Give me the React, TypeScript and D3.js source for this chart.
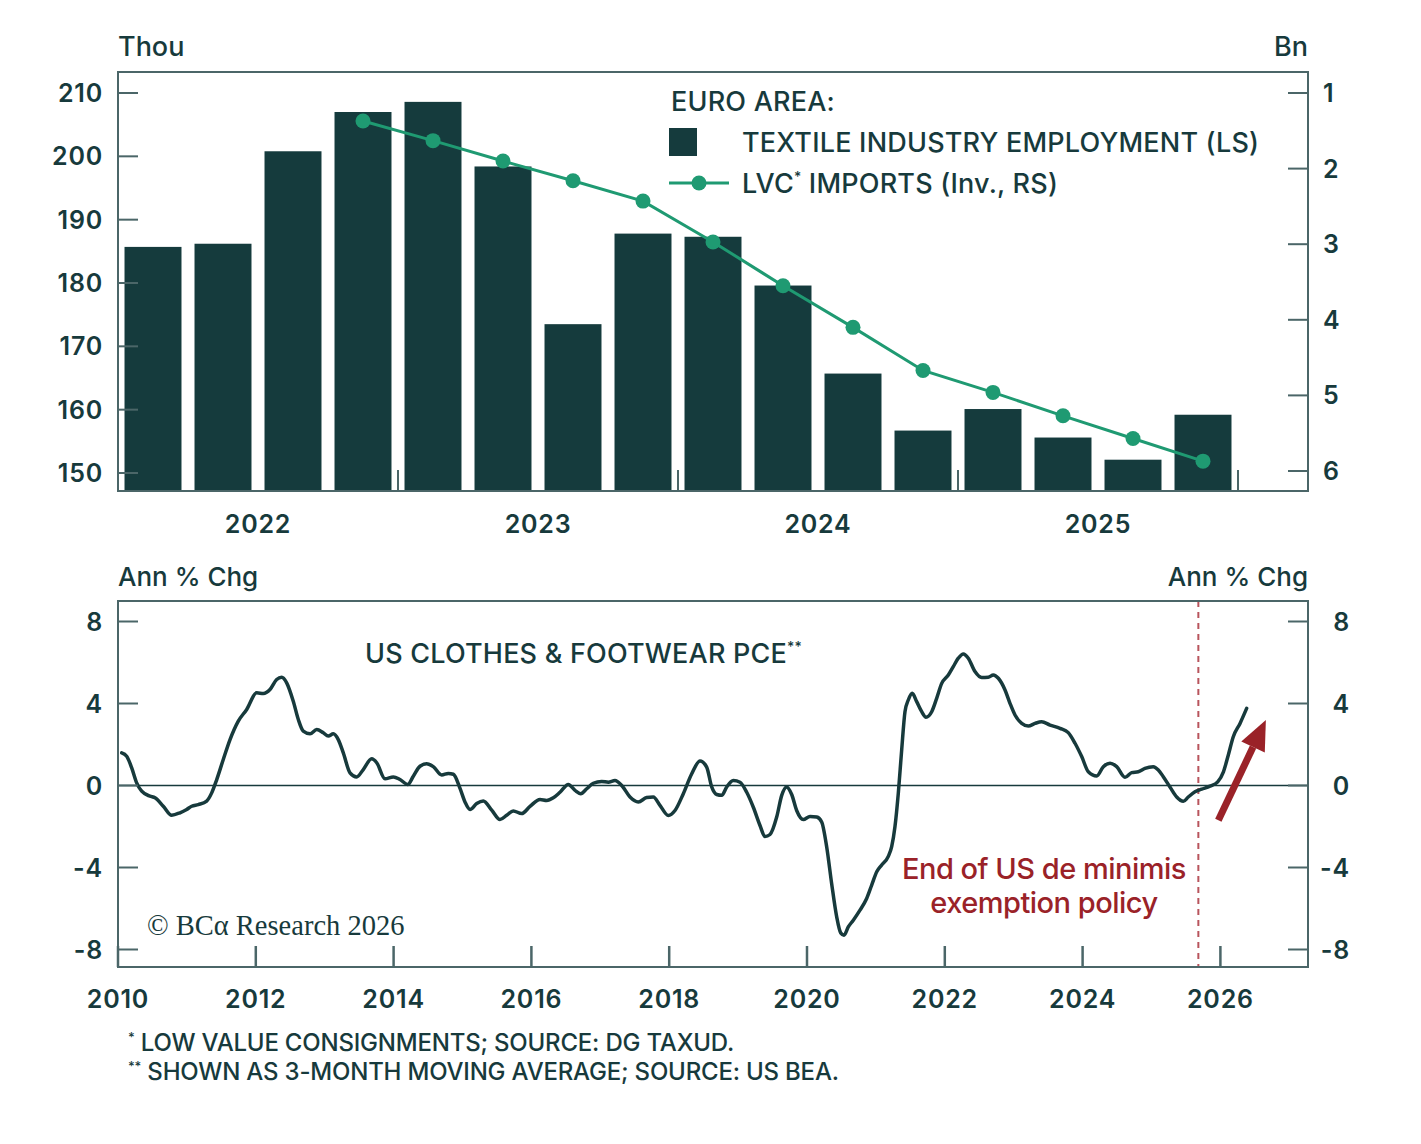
import React from 'react';
import * as d3 from 'd3';

// ---------- DATA ----------
const quarters = ['2022Q1','2022Q2','2022Q3','2022Q4','2023Q1','2023Q2','2023Q3','2023Q4','2024Q1','2024Q2','2024Q3','2024Q4','2025Q1','2025Q2','2025Q3','2025Q4'];
const textileEmployment = [185.7, 186.2, 200.8, 207.0, 208.6, 198.4, 173.5, 187.8, 187.3, 179.6, 165.7, 156.7, 160.1, 155.6, 152.1, 159.2];
const lvcImports: (number | null)[] = [null, null, null, 1.37, 1.63, 1.90, 2.16, 2.43, 2.97, 3.55, 4.10, 4.67, 4.96, 5.27, 5.57, 5.87];
const topYearLabels = ['2022', '2023', '2024', '2025'];
const leftTicksTop = [150, 160, 170, 180, 190, 200, 210];
const rightTicksTop = [1, 2, 3, 4, 5, 6];

const pceDates = [
  2010.054, 2010.126, 2010.199, 2010.271, 2010.344, 2010.464, 2010.537, 2010.657, 2010.779, 2010.900,
  2010.997, 2011.070, 2011.165, 2011.287, 2011.360, 2011.433, 2011.528, 2011.626, 2011.746, 2011.868,
  2012.013, 2012.109, 2012.206, 2012.303, 2012.376, 2012.448, 2012.544, 2012.617, 2012.689, 2012.787,
  2012.884, 2012.980, 2013.052, 2013.125, 2013.197, 2013.270, 2013.367, 2013.464, 2013.560, 2013.682,
  2013.755, 2013.875, 2013.996, 2014.093, 2014.205, 2014.286, 2014.383, 2014.480, 2014.576, 2014.698,
  2014.794, 2014.867, 2014.964, 2015.036, 2015.109, 2015.206, 2015.302, 2015.424, 2015.544, 2015.641,
  2015.737, 2015.859, 2015.980, 2016.125, 2016.222, 2016.318, 2016.415, 2016.536, 2016.633, 2016.716,
  2016.803, 2016.898, 2017.020, 2017.116, 2017.213, 2017.311, 2017.431, 2017.551, 2017.673, 2017.769,
  2017.866, 2017.987, 2018.084, 2018.205, 2018.327, 2018.447, 2018.544, 2018.617, 2018.690, 2018.762,
  2018.835, 2018.930, 2019.028, 2019.125, 2019.221, 2019.318, 2019.390, 2019.463, 2019.560, 2019.633,
  2019.705, 2019.778, 2019.850, 2019.946, 2020.044, 2020.141, 2020.213, 2020.286, 2020.358, 2020.431,
  2020.489, 2020.537, 2020.599, 2020.672, 2020.769, 2020.866, 2020.939, 2021.012, 2021.084, 2021.180,
  2021.229, 2021.277, 2021.325, 2021.374, 2021.422, 2021.470, 2021.528, 2021.592, 2021.665, 2021.727,
  2021.810, 2021.882, 2021.955, 2022.051, 2022.123, 2022.196, 2022.269, 2022.341, 2022.438, 2022.535,
  2022.631, 2022.704, 2022.777, 2022.874, 2022.946, 2023.019, 2023.116, 2023.212, 2023.309, 2023.406,
  2023.527, 2023.672, 2023.792, 2023.890, 2023.987, 2024.083, 2024.205, 2024.301, 2024.398, 2024.495,
  2024.615, 2024.712, 2024.808, 2024.905, 2025.026, 2025.099, 2025.171, 2025.268, 2025.366, 2025.462,
  2025.534, 2025.631, 2025.728, 2025.849, 2025.961, 2026.044, 2026.115, 2026.187, 2026.285, 2026.381,
];
const pceValues = [
  1.59, 1.43, 0.86, 0.13, -0.28, -0.52, -0.60, -1.01, -1.45, -1.33,
  -1.17, -1.01, -0.93, -0.76, -0.36, 0.29, 1.27, 2.24, 3.14, 3.71,
  4.52, 4.49, 4.68, 5.17, 5.28, 5.01, 4.11, 3.22, 2.65, 2.52,
  2.73, 2.57, 2.41, 2.52, 2.24, 1.59, 0.62, 0.42, 0.78, 1.30,
  1.11, 0.33, 0.42, 0.29, 0.05, 0.45, 0.94, 1.06, 0.92, 0.51,
  0.59, 0.55, -0.14, -0.80, -1.17, -0.88, -0.75, -1.20, -1.66, -1.45,
  -1.24, -1.37, -1.02, -0.68, -0.73, -0.60, -0.33, 0.05, -0.24, -0.40,
  -0.16, 0.11, 0.20, 0.16, 0.24, 0.00, -0.56, -0.80, -0.59, -0.56,
  -0.97, -1.46, -1.22, -0.40, 0.57, 1.20, 0.90, -0.07, -0.44, -0.48,
  -0.07, 0.24, 0.16, -0.33, -1.06, -1.95, -2.49, -2.39, -1.54, -0.48,
  -0.07, -0.44, -1.22, -1.66, -1.51, -1.54, -1.78, -3.00, -4.79, -6.41,
  -7.19, -7.30, -6.90, -6.57, -6.08, -5.51, -4.86, -4.21, -3.88, -3.46,
  -2.98, -2.00, -0.38, 1.73, 3.60, 4.17, 4.50, 4.09, 3.60, 3.33,
  3.60, 4.25, 4.98, 5.39, 5.80, 6.21, 6.42, 6.21, 5.56, 5.27,
  5.28, 5.39, 5.23, 4.66, 4.01, 3.44, 3.03, 2.90, 3.03, 3.11,
  2.95, 2.79, 2.58, 2.06, 1.41, 0.67, 0.46, 0.92, 1.09, 0.92,
  0.40, 0.63, 0.67, 0.84, 0.92, 0.76, 0.43, -0.07, -0.56, -0.77,
  -0.56, -0.31, -0.18, -0.03, 0.18, 0.67, 1.49, 2.38, 3.03, 3.76,
];
const bottomYearTicks = [2010, 2012, 2014, 2016, 2018, 2020, 2022, 2024, 2026];
const bottomValueTicks = [-8, -4, 0, 4, 8];
const deMinimisDate = 2025.68;
const arrowFrom: [number, number] = [2025.97, -1.7];
const arrowTo: [number, number] = [2026.66, 3.2];

// ---------- STYLE ----------
const INK = '#173a3c';
const BAR = '#153b3d';
const GREEN = '#1f9a72';
const FRAME = '#4b6668';
const RED = '#9a2228';
const FONT = "Inter, 'Open Sans', sans-serif";

export default function App() {
  const L = 118, R = 1308;

  // ---- top panel ----
  const tTop = 72, tBot = 491;
  const xBand = d3.scaleBand<string>().domain(quarters).range([L, 1238]).paddingInner(0.186).paddingOuter(0.093);
  const xYearTop = d3.scaleLinear().domain([2022, 2026]).range([L, 1238]);
  const yL = d3.scaleLinear().domain([150, 210]).range([473, 93]);
  const yR = d3.scaleLinear().domain([1, 6]).range([93, 471]);
  const lvcPts = quarters
    .map((q, i) => ({ q, v: lvcImports[i] }))
    .filter((d) => d.v !== null) as { q: string; v: number }[];
  const lvcLine = d3.line<{ q: string; v: number }>()
    .x((d) => (xBand(d.q) as number) + xBand.bandwidth() / 2)
    .y((d) => yR(d.v))(lvcPts) as string;

  // ---- bottom panel ----
  const bTop = 601, bBot = 967;
  const xB = d3.scaleLinear().domain([2010, 2010 + (R - L) / 68.9]).range([L, R]);
  const yB = d3.scaleLinear().domain([-8, 8]).range([949.5, 621.5]);
  const pcePts = pceDates.map((d, i) => [d, pceValues[i]] as [number, number]);
  const pceLine = d3.line<[number, number]>()
    .x((d) => xB(d[0]))
    .y((d) => yB(d[1]))
    .curve(d3.curveMonotoneX)(pcePts) as string;

  // arrow geometry
  const ax0 = xB(arrowFrom[0]), ay0 = yB(arrowFrom[1]);
  const ax1 = xB(arrowTo[0]), ay1 = yB(arrowTo[1]);
  const ang = Math.atan2(ay1 - ay0, ax1 - ax0);
  const headLen = 30, headHalf = 13;
  const bx = ax1 - headLen * Math.cos(ang), by = ay1 - headLen * Math.sin(ang);
  const px = -Math.sin(ang), py = Math.cos(ang);
  const head = `${ax1},${ay1} ${bx + headHalf * px},${by + headHalf * py} ${bx - headHalf * px},${by - headHalf * py}`;

  const tickStyle = { fontFamily: FONT, fontSize: 25, fontWeight: 600, fill: INK, letterSpacing: 0.8 } as const;
  const legendStyle = { fontFamily: FONT, fontSize: 27, fontWeight: 500, fill: INK, letterSpacing: 0.2 } as const;
  const unitStyle = { fontFamily: FONT, fontSize: 26, fontWeight: 500, fill: INK } as const;

  return (
    <svg width={1421} height={1144} style={{ position: 'absolute', left: 0, top: 0, background: '#fff' }}>
      <rect x={0} y={0} width={1421} height={1144} fill="#fff" />

      {/* ===== TOP PANEL ===== */}
      <text x={L} y={56} {...unitStyle} fontSize={27}>Thou</text>
      <text x={R} y={56} textAnchor="end" {...unitStyle} fontSize={27}>Bn</text>

      {textileEmployment.map((v, i) => (
        <rect key={quarters[i]} x={xBand(quarters[i])} y={yL(v)} width={xBand.bandwidth()} height={tBot - yL(v)} fill={BAR} />
      ))}

      <path d={lvcLine} fill="none" stroke={GREEN} strokeWidth={3} />
      {lvcPts.map((d) => (
        <circle key={d.q} cx={(xBand(d.q) as number) + xBand.bandwidth() / 2} cy={yR(d.v)} r={7.5} fill={GREEN} />
      ))}

      <rect x={L} y={tTop} width={R - L} height={tBot - tTop} fill="none" stroke={FRAME} strokeWidth={2} />

      {leftTicksTop.map((t) => (
        <g key={'lt' + t}>
          <line x1={L} x2={L + 20} y1={yL(t)} y2={yL(t)} stroke={FRAME} strokeWidth={2} />
          <text x={103} y={yL(t)} dy="0.36em" textAnchor="end" {...tickStyle}>{t}</text>
        </g>
      ))}
      {rightTicksTop.map((t) => (
        <g key={'rt' + t}>
          <line x1={R - 20} x2={R} y1={yR(t)} y2={yR(t)} stroke={FRAME} strokeWidth={2} />
          <text x={1323} y={yR(t)} dy="0.36em" textAnchor="start" {...tickStyle}>{t}</text>
        </g>
      ))}
      {[2022, 2023, 2024, 2025, 2026].map((yr) => (
        <line key={'yt' + yr} x1={xYearTop(yr)} x2={xYearTop(yr)} y1={tBot} y2={tBot - 21} stroke={FRAME} strokeWidth={2} />
      ))}
      {topYearLabels.map((lab, i) => (
        <text key={lab} x={xYearTop(2022 + i + 0.5)} y={524} dy="0.36em" textAnchor="middle" {...tickStyle}>{lab}</text>
      ))}

      {/* legend */}
      <text x={671} y={111} {...legendStyle}>EURO AREA:</text>
      <rect x={669} y={128} width={28} height={28} fill={BAR} />
      <text x={742} y={152} {...legendStyle}>TEXTILE INDUSTRY EMPLOYMENT (LS)</text>
      <line x1={669} x2={729} y1={183} y2={183} stroke={GREEN} strokeWidth={3} />
      <circle cx={699} cy={183} r={7.5} fill={GREEN} />
      <text x={742} y={193} {...legendStyle}>
        LVC<tspan fontSize={14} dy={-11}>*</tspan><tspan dy={11}> IMPORTS (Inv., RS)</tspan>
      </text>

      {/* ===== BOTTOM PANEL ===== */}
      <text x={L} y={586} {...unitStyle}>Ann % Chg</text>
      <text x={R} y={586} textAnchor="end" {...unitStyle}>Ann % Chg</text>

      <line x1={L} x2={R} y1={yB(0)} y2={yB(0)} stroke={INK} strokeWidth={1.5} />
      <line x1={xB(deMinimisDate)} x2={xB(deMinimisDate)} y1={bTop} y2={bBot} stroke="#b8545c" strokeWidth={2} strokeDasharray="6,5" />

      <path d={pceLine} fill="none" stroke={INK} strokeWidth={3.5} strokeLinejoin="round" strokeLinecap="round" />

      <rect x={L} y={bTop} width={R - L} height={bBot - bTop} fill="none" stroke={FRAME} strokeWidth={2} />

      {bottomValueTicks.map((t) => (
        <g key={'bv' + t}>
          <line x1={L} x2={L + 20} y1={yB(t)} y2={yB(t)} stroke={FRAME} strokeWidth={2} />
          <line x1={R - 20} x2={R} y1={yB(t)} y2={yB(t)} stroke={FRAME} strokeWidth={2} />
          <text x={103} y={yB(t)} dy="0.36em" textAnchor="end" {...tickStyle}>{t}</text>
          <text x={1350} y={yB(t)} dy="0.36em" textAnchor="end" {...tickStyle}>{t}</text>
        </g>
      ))}
      {bottomYearTicks.map((yr) => (
        <g key={'by' + yr}>
          <line x1={xB(yr)} x2={xB(yr)} y1={bBot} y2={bBot - 21} stroke={FRAME} strokeWidth={2.5} />
          <text x={xB(yr)} y={999} dy="0.36em" textAnchor="middle" {...tickStyle}>{yr}</text>
        </g>
      ))}

      <text x={365} y={663} {...legendStyle}>
        US CLOTHES &amp; FOOTWEAR PCE<tspan fontSize={14} dy={-11}>**</tspan>
      </text>

      <text x={1044} y={879} textAnchor="middle" fontFamily={FONT} fontSize={29} fontWeight={500} fill={RED} letterSpacing={-0.5}>End of US de minimis</text>
      <text x={1044} y={913} textAnchor="middle" fontFamily={FONT} fontSize={29} fontWeight={500} fill={RED} letterSpacing={-0.5}>exemption policy</text>

      <line x1={ax0} y1={ay0} x2={bx} y2={by} stroke={RED} strokeWidth={7} />
      <polygon points={head} fill={RED} />

      <text x={147} y={935} fontFamily="'Liberation Serif', 'DejaVu Serif', serif" fontSize={28.5} fill={INK}>© BCα Research 2026</text>

      {/* footnotes */}
      <text x={128} y={1051} fontFamily={FONT} fontSize={24} fontWeight={500} fill={INK} letterSpacing={-0.2}>
        <tspan fontSize={13} dy={-9}>*</tspan><tspan dy={9}> LOW VALUE CONSIGNMENTS; SOURCE: DG TAXUD.</tspan>
      </text>
      <text x={128} y={1080} fontFamily={FONT} fontSize={24} fontWeight={500} fill={INK} letterSpacing={-0.2}>
        <tspan fontSize={13} dy={-9}>**</tspan><tspan dy={9}> SHOWN AS 3-MONTH MOVING AVERAGE; SOURCE: US BEA.</tspan>
      </text>
    </svg>
  );
}
